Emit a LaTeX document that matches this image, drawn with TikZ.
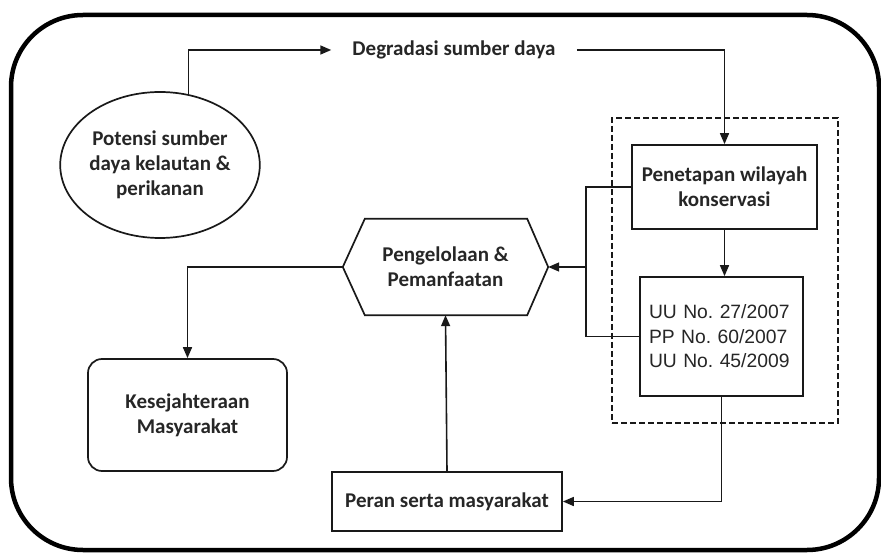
\documentclass[tikz,border=0pt]{standalone}
\usepackage{fontspec}
\setmainfont{Carlito}
\newfontfamily\uufont{Liberation Sans}
\usetikzlibrary{shapes.geometric,arrows.meta,calc}
\begin{document}
\frenchspacing
\begin{tikzpicture}[x=1pt,y=-1pt,
  every node/.style={font=\bfseries\fontsize{21}{25}\selectfont, text=black!85, align=center},
  boxline/.style={draw=black!90, line width=1.7pt},
  conn/.style={draw=black!90, line width=1.6pt},
  arr/.style={conn, -{Triangle[length=11pt,width=9pt]}}
]
\useasboundingbox (0,0) rectangle (881,553);
\draw[line width=4.5pt, rounded corners=72pt] (11,15) rectangle (879,550);

\node (ell) [ellipse, boxline, minimum width=195, minimum height=146, inner sep=0pt] at (160,165)
  {Potensi sumber\\daya kelautan \&\\perikanan};
\node (deg) [inner xsep=21pt] at (454,50) {Degradasi sumber daya};
\node (grp) [draw=black!90, line width=1.6pt, dash pattern=on 6pt off 3pt,
  minimum width=226, minimum height=305] at (725,270.5) {};
\node (pen) [boxline, fill=white, minimum width=185, minimum height=84, inner sep=1pt] at (724.5,187)
  {Penetapan wilayah\\konservasi};
\node (uu) [boxline, fill=white, minimum width=163, minimum height=119, inner xsep=9pt,
  text width=145pt, align=left, font=\uufont\fontsize{19.3}{24.5}\selectfont] at (721.5,336.5)
  {UU No. 27/2007\\PP No. 60/2007\\UU No. 45/2009};
\node (hex) [minimum width=205, minimum height=96] at (445.5,267)
  {Pengelolaan \&\\Pemanfaatan};
\draw[boxline] ($(hex.north west)+(22,0)$) -- ($(hex.north east)+(-21,0)$) -- (hex.east)
  -- ($(hex.south east)+(-21,0)$) -- ($(hex.south west)+(22,0)$) -- (hex.west) -- cycle;
\node (kes) [boxline, rounded corners=14pt, minimum width=199, minimum height=112] at (187.5,415)
  {Kesejahteraan\\Masyarakat};
\node (per) [boxline, minimum width=230, minimum height=59, inner sep=1pt] at (447,501.5)
  {Peran serta masyarakat};

\coordinate (br) at (586,267);
\draw[arr] (ell.68) |- (deg.west);
\draw[arr] (deg.east) -| (pen.north);
\draw[arr] (pen.south) -- (pen.south |- uu.north);
\draw[conn] (pen.west) -| (br) |- (uu.west);
\draw[arr] (br) -- (hex.east);
\draw[arr] (hex.west) -| (kes.north);
\draw[arr] (per.north) -- (hex.south);
\draw[arr] (uu.south) |- (per.east);
\end{tikzpicture}
\end{document}
